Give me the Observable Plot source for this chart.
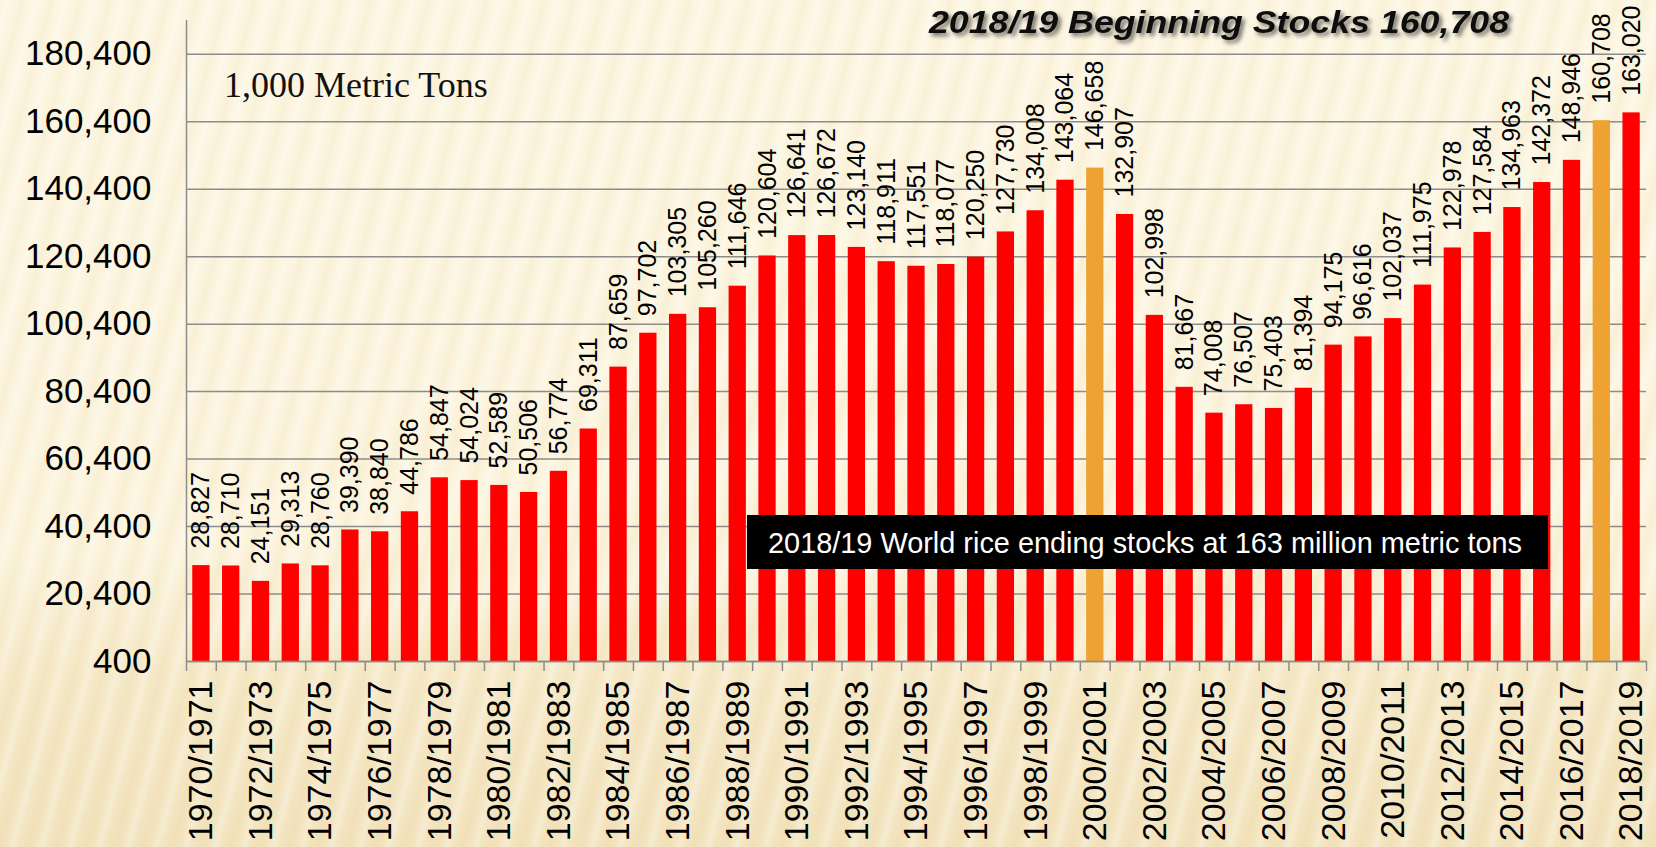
<!DOCTYPE html>
<html>
<head>
<meta charset="utf-8">
<script src="https://cdn.jsdelivr.net/npm/d3@7"></script>
<script src="https://cdn.jsdelivr.net/npm/@observablehq/plot@0.6"></script>
<style>
  html, body { margin: 0; padding: 0; }
  #wrap {
    position: relative; width: 1656px; height: 847px; overflow: hidden;
    background:
      repeating-linear-gradient(105deg, rgba(255,255,255,0.0) 0px, rgba(255,255,255,0.3) 7px, rgba(255,255,255,0.0) 14px, rgba(225,205,150,0.0) 16px, rgba(225,205,150,0.12) 22px, rgba(225,205,150,0.0) 28px),
      linear-gradient(180deg, #fcf5e0 0%, #fbf3dc 65%, #f5e8c6 80%, #f2e3bd 100%);
  }
  #chart { position: absolute; left: 0; top: 0; }
  #overlay { position: absolute; left: 0; top: 0; pointer-events: none; }
</style>
</head>
<body>
<div id="wrap">
  <div id="chart"></div>
  <svg id="overlay" width="1656" height="847">
    <defs>
      <filter id="shadow" x="-5%" y="-30%" width="110%" height="170%">
        <feDropShadow dx="3" dy="3" stdDeviation="2" flood-color="#000" flood-opacity="0.55"/>
      </filter>
    </defs>
    <text x="929" y="33" font-family="Liberation Sans" font-weight="bold" font-style="italic" font-size="32" textLength="580" lengthAdjust="spacingAndGlyphs" fill="#111" filter="url(#shadow)">2018/19 Beginning Stocks 160,708</text>
    <text x="224" y="97" font-family="Liberation Serif" font-size="36" fill="#111">1,000 Metric Tons</text>
    <rect x="747" y="515" width="801" height="54" fill="#000"/>
    <text x="768" y="553" font-family="Liberation Sans" font-size="30" textLength="754" lengthAdjust="spacingAndGlyphs" fill="#fff">2018/19 World rice ending stocks at 163 million metric tons</text>
  </svg>
</div>
<script>
const seasons = [
  "1970/1971","1971/1972","1972/1973","1973/1974","1974/1975","1975/1976","1976/1977","1977/1978","1978/1979","1979/1980",
  "1980/1981","1981/1982","1982/1983","1983/1984","1984/1985","1985/1986","1986/1987","1987/1988","1988/1989","1989/1990",
  "1990/1991","1991/1992","1992/1993","1993/1994","1994/1995","1995/1996","1996/1997","1997/1998","1998/1999","1999/2000",
  "2000/2001","2001/2002","2002/2003","2003/2004","2004/2005","2005/2006","2006/2007","2007/2008","2008/2009","2009/2010",
  "2010/2011","2011/2012","2012/2013","2013/2014","2014/2015","2015/2016","2016/2017","2017/2018","2018/2019"
];
const endingStocks = [
  28827, 28710, 24151, 29313, 28760, 39390, 38840, 44786, 54847, 54024,
  52589, 50506, 56774, 69311, 87659, 97702, 103305, 105260, 111646, 120604,
  126641, 126672, 123140, 118911, 117551, 118077, 120250, 127730, 134008, 143064,
  146658, 132907, 102998, 81667, 74008, 76507, 75403, 81394, 94175, 96616,
  102037, 111975, 122978, 127584, 134963, 142372, 148946, 160708, 163020
];
const highlightedSeasons = ["2000/2001", "2017/2018"];
const xTickLabels = [
  "1970/1971","1972/1973","1974/1975","1976/1977","1978/1979","1980/1981","1982/1983","1984/1985",
  "1986/1987","1988/1989","1990/1991","1992/1993","1994/1995","1996/1997","1998/1999","2000/2001",
  "2002/2003","2004/2005","2006/2007","2008/2009","2010/2011","2012/2013","2014/2015","2016/2017","2018/2019"
];
const yTicks = [400, 20400, 40400, 60400, 80400, 100400, 120400, 140400, 160400, 180400];
const yDomain = [400, 190400];

const RED = "#ff0000", ORANGE = "#eea232", GRAY = "#8c8c8c";
const W = 1656, H = 847, ML = 186, MR = 10, MT = 20, MB = 186;
const step = (W - ML - MR) / seasons.length;

const data = seasons.map((s, i) => ({season: s, value: endingStocks[i], color: highlightedSeasons.includes(s) ? ORANGE : RED}));
const fmt = d3.format(",");

const chart = Plot.plot({
  width: W, height: H,
  marginLeft: ML, marginRight: MR, marginTop: MT, marginBottom: MB,
  style: {background: "transparent", fontFamily: "Liberation Sans", color: "#000", overflow: "visible"},
  x: {type: "band", domain: seasons, paddingInner: 0.42, paddingOuter: 0.21},
  y: {domain: yDomain},
  color: {type: "identity"},
  marks: [
    Plot.gridY(yTicks, {stroke: GRAY, strokeOpacity: 1, strokeWidth: 1.5}),
    Plot.barY(data, {x: "season", y1: yDomain[0], y2: "value", fill: "color"}),
    Plot.ruleY([yDomain[0]], {stroke: GRAY, strokeWidth: 1.5}),
    Plot.ruleX([seasons[0]], {y1: yDomain[0], y2: yDomain[1], dx: -step / 2, stroke: GRAY, strokeWidth: 1.5}),
    Plot.axisX(seasons, {tickSize: 10, text: null, label: null, dx: -step / 2, stroke: GRAY, strokeWidth: 1.5}),
    Plot.axisX([seasons[seasons.length - 1]], {tickSize: 10, text: null, label: null, dx: step / 2, stroke: GRAY, strokeWidth: 1.5}),
    Plot.axisX(xTickLabels, {tickSize: 0, tickPadding: 19, tickRotate: -90, fontSize: 34, fill: "#000", label: null}),
    Plot.axisY(yTicks, {tickSize: 0, tickPadding: 35, tickFormat: d => fmt(d), fontSize: 35, fill: "#000", label: null}),
    Plot.text(data, {x: "season", y: "value", text: d => fmt(d.value), rotate: -90, textAnchor: "start", dy: -17, fontSize: 25, fill: "#000"})
  ]
});
document.getElementById("chart").appendChild(chart);
</script>
</body>
</html>
